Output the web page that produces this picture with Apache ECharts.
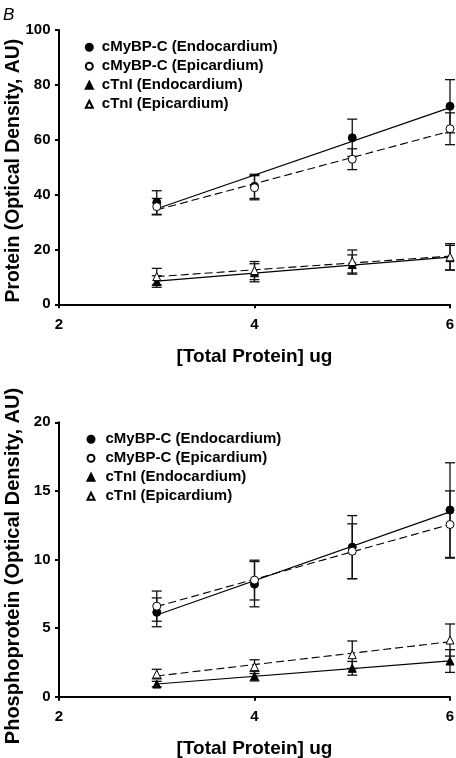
<!DOCTYPE html>
<html><head><meta charset="utf-8">
<script src="https://cdn.jsdelivr.net/npm/echarts@6/dist/echarts.min.js"></script>
<style>html,body{margin:0;padding:0;background:#fff}#c{width:456px;height:758px}</style>
</head><body><div id="c"></div>
<script>
// ---------- data ----------
const xDoses = [3, 4, 5, 6];
const xTicks = [2, 4, 6];
const seriesNames = ['cMyBP-C (Endocardium)', 'cMyBP-C (Epicardium)', 'cTnI (Endocardium)', 'cTnI (Epicardium)'];

// Panel 1: Protein (Optical Density, AU)
const protMyBPEndo = [37.1, 43.0, 60.7, 72.2];
const protMyBPEndoErr = [4.3, 4.4, 6.8, 9.7];
const protMyBPEpi = [35.6, 42.5, 52.9, 64.0];
const protMyBPEpiErr = [3.0, 4.4, 3.8, 5.8];
const protTnIEndo = [8.3, 11.5, 14.5, 17.0];
const protTnIEndoErr = [2.1, 3.3, 3.5, 4.5];
const protTnIEpi = [10.1, 12.3, 15.6, 17.3];
const protTnIEpiErr = [3.0, 3.3, 4.2, 4.8];

// Panel 2: Phosphoprotein (Optical Density, AU)
const phosMyBPEndo = [6.15, 8.2, 10.9, 13.6];
const phosMyBPEndoErr = [1.05, 1.65, 2.3, 3.45];
const phosMyBPEpi = [6.6, 8.5, 10.6, 12.55];
const phosMyBPEpiErr = [1.1, 1.45, 2.0, 2.45];
const phosTnIEndo = [0.92, 1.5, 2.07, 2.6];
const phosTnIEndoErr = [0.2, 0.35, 0.5, 0.83];
const phosTnIEpi = [1.65, 2.19, 3.06, 4.13];
const phosTnIEpiErr = [0.35, 0.5, 1.0, 1.17];

const yTicksTop = [0, 20, 40, 60, 80, 100];
const yTicksBottom = [0, 5, 10, 15, 20];

// ---------- helpers ----------
const FONT = '"Liberation Sans", Arial, Helvetica, sans-serif';

function linFit(xs, ys) {
  const n = xs.length;
  const mx = xs.reduce((a, b) => a + b, 0) / n;
  const my = ys.reduce((a, b) => a + b, 0) / n;
  let sxy = 0, sxx = 0;
  for (let i = 0; i < n; i++) { sxy += (xs[i] - mx) * (ys[i] - my); sxx += (xs[i] - mx) ** 2; }
  const b = sxy / sxx, a = my - b * mx;
  const x0 = xs[0], x1 = xs[n - 1];
  return [[x0, a + b * x0], [x1, a + b * x1]];
}

const styles = [
  { symbol: 'circle', fill: '#000', size: 8 },
  { symbol: 'circle', fill: '#fff', size: 8, dash: true },
  { symbol: 'triangle', fill: '#000', size: 8 },
  { symbol: 'triangle', fill: '#fff', size: 8, dash: true }
];

function panelSeries(gi, sets) {
  const out = [];
  sets.forEach((s, k) => {
    out.push({
      type: 'custom', xAxisIndex: gi, yAxisIndex: gi, z: 2, silent: true,
      name: 'err' + gi + k,
      data: xDoses.map((x, i) => [x, s.v[i], s.e[i]]),
      renderItem: function (params, api) {
        const x = api.value(0), y = api.value(1), e = api.value(2);
        const hi = api.coord([x, y + e]);
        const lo = api.coord([x, y - e]);
        const w = 5;
        const st = { stroke: '#111', lineWidth: 1.3 };
        return { type: 'group', children: [
          { type: 'line', shape: { x1: hi[0], y1: hi[1], x2: lo[0], y2: lo[1] }, style: st },
          { type: 'line', shape: { x1: hi[0] - w, y1: hi[1], x2: hi[0] + w, y2: hi[1] }, style: st },
          { type: 'line', shape: { x1: lo[0] - w, y1: lo[1], x2: lo[0] + w, y2: lo[1] }, style: st }
        ] };
      }
    });
  });
  sets.forEach((s, k) => {
    out.push({
      type: 'line', xAxisIndex: gi, yAxisIndex: gi, z: 3, silent: true,
      name: 'fit' + gi + k, symbol: 'none',
      data: linFit(xDoses, s.v),
      lineStyle: { color: '#000', width: 1.1, type: styles[k].dash ? [8, 4] : 'solid' }
    });
  });
  sets.forEach((s, k) => {
    out.push({
      type: 'scatter', xAxisIndex: gi, yAxisIndex: gi, z: 5,
      name: seriesNames[k], symbol: styles[k].symbol, symbolSize: styles[k].size,
      data: xDoses.map((x, i) => [x, s.v[i]]),
      itemStyle: { color: styles[k].fill, borderColor: '#000', borderWidth: 1, opacity: 1 }
    });
  });
  return out;
}

const axisTextStyle = { color: '#000', fontFamily: FONT, fontWeight: 'bold', fontSize: 15 };
const nameStyle = { color: '#000', fontFamily: FONT, fontWeight: 'bold', fontSize: 19 };

function xAx(gi) {
  return {
    type: 'value', gridIndex: gi, min: xTicks[0], max: xTicks[xTicks.length - 1], interval: 2,
    name: '[Total Protein] ug', nameLocation: 'middle', nameGap: 43, nameMoveOverlap: false,
    nameTextStyle: nameStyle,
    axisLine: { lineStyle: { color: '#000', width: 2 } },
    axisTick: { show: true, length: 4, lineStyle: { color: '#000', width: 2 } },
    axisLabel: Object.assign({ margin: 13 }, axisTextStyle),
    splitLine: { show: false }
  };
}
function yAx(gi, ticks, name, pad, fs) {
  return {
    type: 'value', gridIndex: gi, min: ticks[0], max: ticks[ticks.length - 1], interval: ticks[1] - ticks[0],
    name: name, nameLocation: 'middle', nameGap: 36, nameMoveOverlap: false,
    nameTextStyle: Object.assign({}, nameStyle, { padding: pad, fontSize: fs }),
    axisLine: { show: true, lineStyle: { color: '#000', width: 2 } },
    axisTick: { show: true, length: 4, lineStyle: { color: '#000', width: 2 } },
    axisLabel: Object.assign({ margin: 8.5 }, axisTextStyle),
    splitLine: { show: false }
  };
}

const topSets = [
  { v: protMyBPEndo, e: protMyBPEndoErr },
  { v: protMyBPEpi, e: protMyBPEpiErr },
  { v: protTnIEndo, e: protTnIEndoErr },
  { v: protTnIEpi, e: protTnIEpiErr }
];
const botSets = [
  { v: phosMyBPEndo, e: phosMyBPEndoErr },
  { v: phosMyBPEpi, e: phosMyBPEpiErr },
  { v: phosTnIEndo, e: phosTnIEndoErr },
  { v: phosTnIEpi, e: phosTnIEpiErr }
];

const legendBase = {
  orient: 'vertical', padding: 0, itemWidth: 7, itemHeight: 7, itemGap: 4,
  selectedMode: false, data: seriesNames
};

const option = {
  animation: false,
  backgroundColor: '#fff',
  textStyle: { fontFamily: FONT },
  graphic: [{ type: 'text', left: 3, top: 7, style: { text: 'B', font: 'italic 17px ' + FONT, fill: '#000' } }],
  legend: [
    Object.assign({}, legendBase, { left: 84.8, top: 39.8,
      textStyle: { color: '#000', fontFamily: FONT, fontWeight: 'bold', fontSize: 15, lineHeight: 15, padding: [0, 0, 0, 4] } }),
    Object.assign({}, legendBase, { left: 86.5, top: 431.8,
      textStyle: { color: '#000', fontFamily: FONT, fontWeight: 'bold', fontSize: 15, lineHeight: 15, padding: [0, 0, 0, 6] } })
  ],
  grid: [
    { left: 59, right: 6, top: 30, height: 274.3, containLabel: false, outerBoundsMode: 'none' },
    { left: 59, right: 6, top: 422.3, height: 274.4, containLabel: false, outerBoundsMode: 'none' }
  ],
  xAxis: [xAx(0), xAx(1)],
  yAxis: [
    yAx(0, yTicksTop, 'Protein (Optical Density, AU)', [0, 7, 0, 0], 19.4),
    yAx(1, yTicksBottom, 'Phosphoprotein (Optical Density, AU)', [0, 13, 0, 0], 20)
  ],
  series: panelSeries(0, topSets).concat(panelSeries(1, botSets))
};

const chart = echarts.init(document.getElementById('c'), null, { renderer: 'canvas' });
chart.setOption(option);
</script>
</body></html>
